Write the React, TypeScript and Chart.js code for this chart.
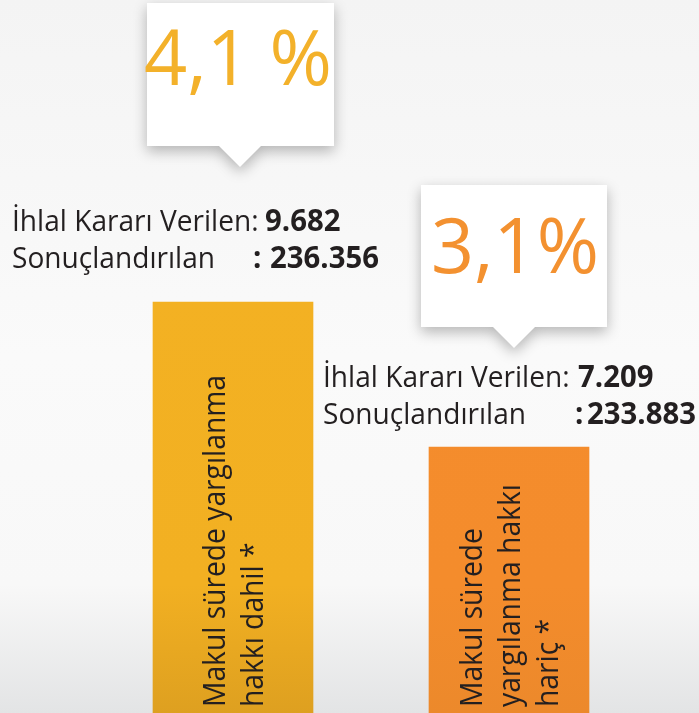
import { useEffect, useRef } from "react";
import { Chart, registerables } from "chart.js";

Chart.register(...registerables);

// ---- data ----
const categories = ["Makul sürede yargılanma hakkı dahil *", "Makul sürede yargılanma hakkı hariç *"];
const percentValues = [4.1, 3.1];
const percentLabels = ["4,1 %", "3,1%"];
const violationLabel = "İhlal Kararı Verilen:";
const concludedLabel = "Sonuçlandırılan";
const violationCounts = ["9.682", "7.209"];
const concludedCounts = ["236.356", "233.883"];
const barTextLines = [
  ["Makul sürede yargılanma", "hakkı dahil *"],
  ["Makul sürede", "yargılanma hakkı", "hariç *"],
];

// ---- styles / layout ----
const barColors = [
  ["#F4B223", "#F2B022", "#DEA020"],
  ["#F58D2D", "#F48C2C", "#EC892B"],
];
const percentColors = ["#F3B12A", "#F39130"];
const textColor = "#231F20";
const FONT = '"Open Sans", "Noto Sans", sans-serif';

const callouts = [
  { x: 147, y: 3, w: 187, h: 143, tipX: 240, tipY: 167, half: 21, textX: 238, baseline: 85, width: 188 },
  { x: 421, y: 185, w: 186, h: 142, tipX: 514, tipY: 348, half: 21, textX: 515, baseline: 273, width: 168 },
];
const labelPos = [
  { x: 12, y1: 231, y2: 268, colonX: 253, numX1: 265, numX2: 270 },
  { x: 323, y1: 387, y2: 424, colonX: 575, numX1: 578, numX2: 587 },
];
const PCT_SIZE = 77;
const LABEL_SIZE = 29.5;
const BAR_SIZE = 30.5;

function scaleX(ctx: CanvasRenderingContext2D, text: string, font: string, target: number) {
  ctx.font = font;
  return target / ctx.measureText(text).width;
}

function drawScaled(ctx: CanvasRenderingContext2D, text: string, x: number, y: number, sx: number) {
  ctx.save();
  ctx.translate(x, y);
  ctx.scale(sx, 1);
  ctx.fillText(text, 0, 0);
  ctx.restore();
}

const overlayPlugin = {
  id: "overlay",
  beforeDraw(chart: any) {
    const { ctx, width, height } = chart;
    ctx.save();
    const g = ctx.createLinearGradient(0, 0, 0, height);
    g.addColorStop(0, "#f4f4f4");
    g.addColorStop(0.5, "#fafafa");
    g.addColorStop(0.82, "#f8f8f8");
    g.addColorStop(1, "#e3e4e5");
    ctx.fillStyle = g;
    ctx.fillRect(0, 0, width, height);
    ctx.restore();
  },
  afterDatasetsDraw(chart: any) {
    const { ctx } = chart;
    const meta = chart.getDatasetMeta(0);
    ctx.save();

    // callouts
    callouts.forEach((c, i) => {
      ctx.save();
      ctx.shadowColor = "rgba(0,0,0,0.28)";
      ctx.shadowBlur = 14;
      ctx.shadowOffsetY = 5;
      ctx.fillStyle = "#ffffff";
      ctx.beginPath();
      ctx.moveTo(c.x, c.y);
      ctx.lineTo(c.x + c.w, c.y);
      ctx.lineTo(c.x + c.w, c.y + c.h);
      ctx.lineTo(c.tipX + c.half, c.y + c.h);
      ctx.lineTo(c.tipX, c.tipY);
      ctx.lineTo(c.tipX - c.half, c.y + c.h);
      ctx.lineTo(c.x, c.y + c.h);
      ctx.closePath();
      ctx.fill();
      ctx.restore();

      const font = `normal ${PCT_SIZE}px ${FONT}`;
      const sx = scaleX(ctx, percentLabels[i], font, c.width);
      ctx.font = font;
      ctx.fillStyle = percentColors[i];
      ctx.textAlign = "center";
      ctx.textBaseline = "alphabetic";
      drawScaled(ctx, percentLabels[i], c.textX, c.baseline, sx);
    });

    // labels
    const regFont = `normal ${LABEL_SIZE}px ${FONT}`;
    const boldFont = `bold ${LABEL_SIZE}px ${FONT}`;
    const lsx = scaleX(ctx, concludedLabel, regFont, 203);
    const bsxNum = scaleX(ctx, concludedCounts[0], boldFont, 109);
    labelPos.forEach((p, i) => {
      ctx.textAlign = "left";
      ctx.textBaseline = "alphabetic";
      ctx.fillStyle = textColor;
      ctx.font = regFont;
      drawScaled(ctx, violationLabel, p.x, p.y1, lsx);
      drawScaled(ctx, concludedLabel, p.x, p.y2, lsx);
      ctx.font = boldFont;
      drawScaled(ctx, violationCounts[i], p.numX1, p.y1, bsxNum);
      drawScaled(ctx, ":", p.colonX, p.y2, bsxNum);
      drawScaled(ctx, concludedCounts[i], p.numX2, p.y2, bsxNum);
    });

    // bar texts
    const barFont = `normal ${BAR_SIZE}px ${FONT}`;
    const bsx = scaleX(ctx, barTextLines[0][0], barFont, 332);
    const lineGap = 38;
    meta.data.forEach((bar: any, i: number) => {
      const lines = barTextLines[i];
      const n = lines.length;
      ctx.save();
      ctx.font = barFont;
      ctx.fillStyle = textColor;
      ctx.textAlign = "left";
      ctx.textBaseline = "alphabetic";
      lines.forEach((line, j) => {
        const cx = bar.x + (j - (n - 1) / 2) * lineGap;
        ctx.save();
        ctx.translate(cx + 11, 707);
        ctx.rotate(-Math.PI / 2);
        ctx.scale(bsx, 1);
        ctx.fillText(line, 0, 0);
        ctx.restore();
      });
      ctx.restore();
    });

    ctx.restore();
  },
};

export default function App() {
  const ref = useRef<HTMLCanvasElement | null>(null);
  useEffect(() => {
    if (!ref.current) return;
    const chart = new Chart(ref.current, {
      type: "bar",
      data: {
        labels: categories,
        datasets: [
          {
            data: percentValues,
            barThickness: 160,
            borderWidth: 0,
            backgroundColor: (c: any) => {
              const area = c.chart.chartArea;
              const cols = barColors[c.dataIndex % barColors.length];
              if (!area) return cols[0];
              const g = c.chart.ctx.createLinearGradient(0, area.top, 0, area.bottom);
              g.addColorStop(0, cols[0]);
              g.addColorStop(0.82, cols[1]);
              g.addColorStop(1, cols[2]);
              return g;
            },
          },
        ],
      },
      options: {
        responsive: false,
        animation: false,
        layout: { padding: { left: 95, right: 52, top: 0, bottom: 0 } },
        plugins: { legend: { display: false }, tooltip: { enabled: false } },
        scales: {
          x: { display: false, grid: { display: false } },
          y: { display: false, min: 1.265, max: 6.184, grid: { display: false } },
        },
      },
      plugins: [overlayPlugin],
    });
    return () => chart.destroy();
  }, []);
  return (
    <div style={{ position: "fixed", left: 0, top: 0, width: 699, height: 713 }}>
      <canvas ref={ref} width={699} height={713} style={{ display: "block" }} />
    </div>
  );
}
